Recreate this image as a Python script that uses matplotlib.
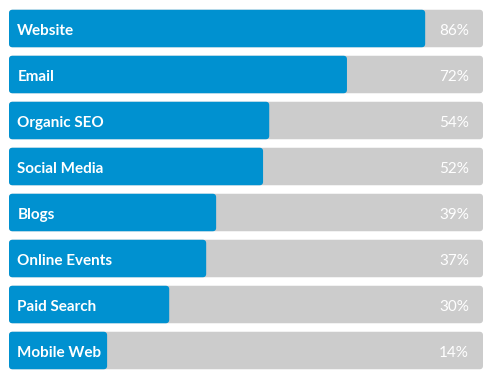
import matplotlib
matplotlib.use("Agg")
import matplotlib.pyplot as plt
from matplotlib.patches import FancyBboxPatch

channels = ["Website", "Email", "Organic SEO", "Social Media", "Blogs",
            "Online Events", "Paid Search", "Mobile Web"]
shares = [86, 72, 54, 52, 39, 37, 30, 14]          # printed percentages
fill = [87.8, 71.3, 54.9, 53.6, 43.7, 41.6, 33.8, 20.7]  # drawn bar lengths (% of track)

BLUE = "#0091d0"
GRAY = "#cccccc"

W, H = 495, 386
fig = plt.figure(figsize=(W / 100, H / 100), dpi=100)
fig.patch.set_facecolor("white")
left_px, right_px = 9, 483
ax = fig.add_axes([left_px / W, 0, (right_px - left_px) / W, 1])
ax.set_xlim(0, 100)
pitch = 46.0
first_c = 28.5
ax.set_ylim((H - first_c) / pitch, -first_c / pitch)
ax.axis("off")

bar_h = 37.5 / pitch
xunit = (right_px - left_px) / 100.0   # px per x unit
r_px = 3.5
rx = r_px / xunit
asp = xunit / pitch

def rbox(x0, y0, w, h, color):
    p = FancyBboxPatch((x0, y0), w, h,
                       boxstyle=f"round,pad=0,rounding_size={rx}",
                       mutation_aspect=asp, facecolor=color,
                       edgecolor="none", linewidth=0, zorder=1)
    ax.add_patch(p)

for i, (name, s, f) in enumerate(zip(channels, shares, fill)):
    y0 = i - bar_h / 2
    rbox(0, y0, 100, bar_h, GRAY)
    rbox(0, y0, f, bar_h, BLUE)
    ax.annotate(name, xy=(0, i), xytext=(6, -0.5), textcoords="offset points",
                ha="left", va="center_baseline", color="white", fontsize=11,
                fontweight="bold", family="Lato", zorder=5)
    ax.annotate(f"{s}%", xy=(100, i), xytext=(-10, -0.5), textcoords="offset points",
                ha="right", va="center_baseline", color="white", fontsize=11,
                family="Lato", fontweight="normal", zorder=5)

fig.savefig("out.png", dpi=100, facecolor="white")
